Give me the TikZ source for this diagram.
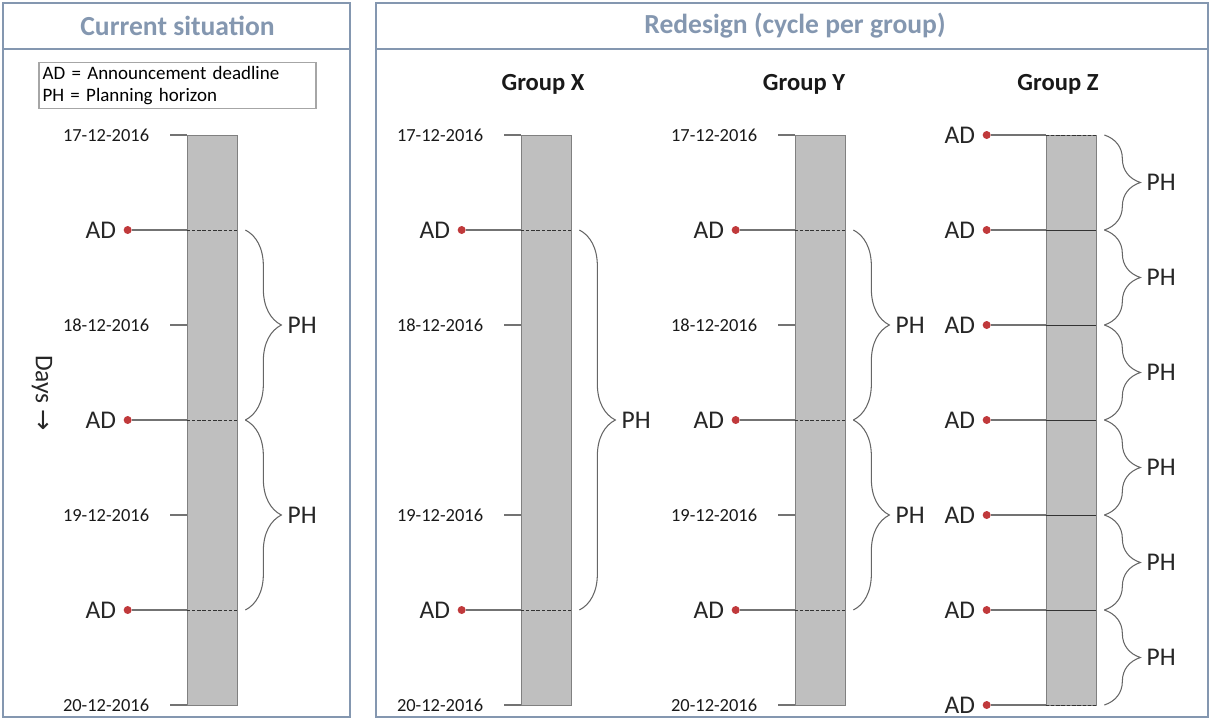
\documentclass[tikz,border=0pt]{standalone}
\usepackage{fontspec}
\setmainfont{Carlito}
\newfontfamily\arrowfont{DejaVu Sans}
\usetikzlibrary{positioning,decorations.pathreplacing}
\definecolor{frame}{HTML}{8497B0}
\definecolor{dotred}{HTML}{C0393B}
\begin{document}
\begin{tikzpicture}[
            x=0.02cm, y=-0.02cm,
            panel/.style={draw=frame, line width=1.1pt},
            heading/.style={font=\bfseries\fontsize{15.7}{18}\selectfont, text=frame},
            groupname/.style={font=\bfseries\fontsize{14}{16}\selectfont, text=black!90},
            legend/.style={draw=black!35, line width=0.6pt, minimum width=5.54cm, minimum height=0.86cm,
                text width=5.4cm, align=left, font=\fontsize{10.8}{12.5}\selectfont, inner sep=2pt},
            bar/.style={draw=black!50, fill=black!25, minimum width=1cm, minimum height=11.4cm, inner sep=0pt},
            date/.style={font=\fontsize{10.5}{12}\selectfont, text=black!90, anchor=east, inner sep=0pt, xshift=-0.4cm},
            dot/.style={circle, fill=dotred, inner sep=0pt, minimum size=0.16cm},
            adtext/.style={font=\fontsize{14.5}{16}\selectfont, text=black!85, inner sep=1pt},
            adline/.style={draw=black!55, line width=0.6pt},
            inbar/.style={draw=black!80, dash pattern=on 2pt off 1pt, line width=0.4pt},
            inbarsolid/.style={draw=black!80, line width=0.5pt},
            phbrace/.style={decorate, decoration={brace, amplitude=0.72cm}, draw=black!60, line width=0.6pt},
            phtext/.style={font=\fontsize{14.5}{16}\selectfont, text=black!85, anchor=west, xshift=0.8cm, inner sep=1pt}
        ]
            \useasboundingbox (0,0) rectangle (1212,720);

            \draw[panel] (3,3) rectangle (350,717);
            \draw[panel] (3,49) -- (350,49);
            \node[heading] (curhead) at (177.5,26) {Current situation};
            \node[legend] (legend) at (177.5,85.5) {AD = Announcement deadline\\PH = Planning horizon};
            \node[adtext, rotate=-90] (days) at (42,393) {Days {\arrowfont →}};

            \draw[panel] (376,3) rectangle (1208,717);
            \draw[panel] (376,49) -- (1208,49);
            \node[heading] (redhead) at (795,26) {Redesign (cycle per group)};
            \node[groupname] (grpX) at (543,84) {Group X};
            \node[groupname] (grpY) at (804,84) {Group Y};
            \node[groupname] (grpZ) at (1058,84) {Group Z};

            \node[bar] (barL) at (212,420) {};
            \node[bar] (barX) at (546,420) {};
            \node[bar] (barY) at (820,420) {};
            \node[bar] (barZ) at (1071,420) {};

            \foreach \b in {L,X,Y}
                \foreach \d/\y in {17/135,18/325,19/515,20/705}
                    \draw[adline] (bar\b.west |- 0,\y) -- ++(-17,0) node[date] (date\b\d) {\d-12-2016};

            \foreach \b/\y in {L/230,L/420,L/610,X/230,X/610,Y/230,Y/420,Y/610,
                    Z/135,Z/230,Z/325,Z/420,Z/515,Z/610,Z/705} {
                \node[dot, xshift=-1.18cm] (ad\b\y) at (bar\b.west |- 0,\y) {};
                \node[adtext, left=3pt of ad\b\y] (adt\b\y) {AD};
                \draw[adline] (ad\b\y) -- (bar\b.west |- ad\b\y);
            }
            \foreach \b/\y in {L/230,L/420,L/610,X/230,X/610,Y/230,Y/420,Y/610,Z/135,Z/705}
                \draw[inbar] (bar\b.west |- ad\b\y) -- (bar\b.east |- ad\b\y);
            \foreach \y in {230,325,420,515,610}
                \draw[inbarsolid] (barZ.west |- adZ\y) -- (barZ.east |- adZ\y);

            \foreach \b/\ya/\yb in {L/230/420,L/420/610,X/230/610,Y/230/420,Y/420/610,
                    Z/135/230,Z/230/325,Z/325/420,Z/420/515,Z/515/610,Z/610/705}
                \draw[phbrace] ([xshift=0.16cm]bar\b.east |- ad\b\ya)
                    -- node[phtext] (ph\b\ya) {PH} ([xshift=0.16cm]bar\b.east |- ad\b\yb);
        \end{tikzpicture}
\end{document}
